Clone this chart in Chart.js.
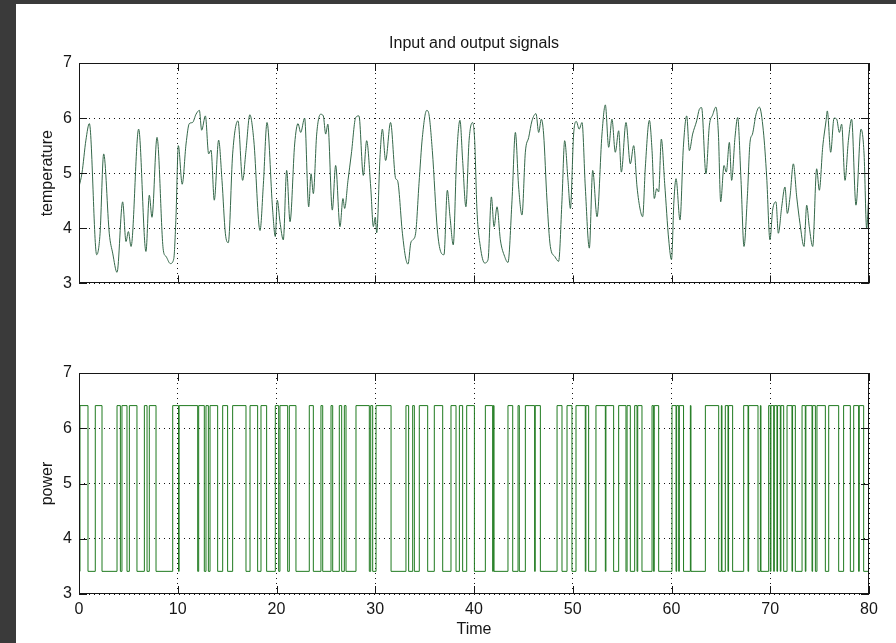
<!DOCTYPE html>
<html>
<head>
<meta charset="utf-8">
<title>Input and output signals</title>
<script src="https://cdn.jsdelivr.net/npm/chart.js@4.4.1/dist/chart.umd.min.js"></script>
<style>
  html, body { margin: 0; padding: 0; background: #3a3a3a; width: 896px; height: 643px; overflow: hidden; }
  #sheet { position: absolute; left: 16px; top: 4px; width: 880px; height: 639px; background: #fff; }
  .plot { position: absolute; left: 0; width: 896px; }
  #top { top: 0; height: 300px; }
  #bot { top: 300px; height: 343px; }
</style>
</head>
<body>
<div id="sheet"></div>
<div class="plot" id="top"><canvas id="tempChart"></canvas></div>
<div class="plot" id="bot"><canvas id="powerChart"></canvas></div>

<script>
// ── DATA ────────────────────────────────────────────────────
const timeTicks = [0, 10, 20, 30, 40, 50, 60, 70, 80];
const levelTicks = [3, 4, 5, 6, 7];

// temperature (output)
const tempTime = [
  0, 0.3, 0.7, 1.05, 1.79, 2.13, 2.5, 3.07, 3.41, 3.85, 4.42, 4.76, 5.0, 5.27, 6.04, 6.78,
  7.12, 7.39, 7.9, 8.54, 8.81, 9.25, 9.59, 9.82, 10.06, 10.45, 10.84, 11.17, 11.5, 11.85,
  12.19, 12.42, 12.8, 13.13, 13.37, 13.7, 14.14, 14.48, 14.82, 15.12, 15.56, 16.1, 16.57,
  16.91, 17.3, 17.7, 18.33, 18.67, 19.04, 19.61, 19.88,
  20.08, 20.35, 20.69, 21.03, 21.37, 21.84, 22.18, 22.45, 22.85, 23.26, 23.5, 23.73, 24.07,
  24.47, 24.74, 24.98, 25.2, 25.65, 25.99, 26.43, 26.73, 26.9, 27.24, 27.58, 28.02, 28.35,
  28.79, 29.13, 29.54, 29.81, 30.0, 30.15, 30.48, 30.72, 31.05, 31.55, 32.07, 32.25, 32.75,
  33.08, 33.32, 33.59, 33.8, 34.09, 34.43, 34.77, 35.21, 35.4, 35.78, 36.29, 36.62, 36.96,
  37.3, 37.57, 37.9, 38.24, 38.58, 38.85, 39.18, 39.5, 39.85,
  40.07, 40.3, 40.64, 41.08, 41.42, 41.76, 42.03, 42.33, 42.67, 43.1, 43.44, 43.85, 44.19,
  44.52, 44.86, 45.2, 45.54, 45.87, 46.28, 46.55, 46.82, 47.05, 47.39, 47.73, 48.17, 48.57,
  48.91, 49.18, 49.52, 49.76, 50.09, 50.36, 50.65, 50.94, 51.27, 51.68, 52.02, 52.46, 52.96,
  53.3, 53.64, 53.97, 54.31, 54.65, 54.92, 55.39, 55.83, 56.17, 56.51, 56.84, 57.08, 57.35,
  57.76, 58.03, 58.26, 58.5, 58.7, 58.97, 59.31, 59.72, 60.0,
  60.25, 60.46, 60.86, 61.2, 61.54, 61.81, 62.14, 62.55, 62.82, 63.05, 63.49, 63.83, 64.17,
  64.5, 64.75, 64.98, 65.32, 65.55, 65.86, 66.09, 66.43, 66.7, 67.04, 67.34, 67.68, 67.95,
  68.2, 68.56, 68.9, 69.3, 69.64, 69.97, 70.24, 70.58, 70.82, 71.16, 71.49, 71.73, 72.0,
  72.34, 72.68, 73.01, 73.42, 73.69, 73.95, 74.3, 74.7, 74.97, 75.31, 75.65, 75.78, 76.12,
  76.46, 76.73, 77.0, 77.23, 77.57, 77.91, 78.24, 78.68, 79.19, 79.5, 79.76, 80.0
];
const tempValue = [
  4.75, 5.0, 5.6, 5.9, 3.52, 3.9, 5.35, 3.9, 3.55, 3.2, 4.48, 3.76, 3.94, 3.67, 5.8, 3.58,
  4.6, 4.2, 5.65, 3.6, 3.49, 3.36, 3.44, 4.2, 5.5, 4.8, 5.53, 5.9, 5.92, 6.07,
  6.14, 5.78, 6.04, 5.35, 5.42, 4.51, 5.6, 4.87, 3.91, 3.74, 5.35, 5.95, 4.87,
  5.41, 6.06, 5.6, 3.96, 4.8, 5.92, 4.33, 3.85,
  4.51, 4.12, 3.79, 5.05, 4.12, 5.53, 5.9, 5.74, 6.0, 4.39, 4.99, 4.63, 5.71,
  6.07, 6.04, 5.71, 5.89, 4.33, 5.14, 4.03, 4.54, 4.36, 4.87, 5.35, 6.01, 6.04,
  4.96, 5.59, 4.75, 4.03, 4.2, 3.92, 5.29, 5.8, 5.23, 5.92, 4.9, 4.87, 3.91,
  3.46, 3.35, 3.73, 3.79, 3.91, 4.81, 5.65, 6.14, 6.1, 5.41, 3.97, 3.58, 3.52,
  4.69, 4.21, 3.7, 5.29, 5.96, 5.23, 4.39, 5.59, 5.92,
  5.59, 4.33, 3.67, 3.37, 3.43, 4.57, 4.03, 4.39, 3.79, 3.49, 3.38, 4.51, 5.74,
  4.75, 4.24, 5.38, 5.65, 5.95, 6.08, 5.74, 5.98, 5.71, 4.51, 3.67, 3.49, 3.4,
  4.51, 5.59, 4.87, 4.36, 5.71, 5.94, 5.8, 5.92, 4.75, 3.64, 5.05, 4.21, 5.71,
  6.24, 5.47, 5.98, 5.38, 5.77, 5.02, 5.92, 5.17, 5.5, 4.75, 4.33, 4.21, 5.11,
  5.96, 5.41, 4.54, 4.72, 4.66, 5.62, 4.81, 3.79, 3.43,
  4.51, 4.9, 4.15, 5.47, 6.04, 5.41, 5.71, 5.95, 6.16, 6.19, 4.99, 5.86, 6.06,
  6.2, 5.71, 4.48, 5.14, 5.02, 5.56, 4.87, 5.65, 6.01, 4.87, 3.67, 4.57, 5.56,
  5.71, 6.07, 6.2, 5.77, 4.93, 3.79, 4.33, 4.48, 3.91, 4.39, 4.75, 4.27, 4.57,
  5.17, 4.57, 4.09, 3.67, 4.42, 4.03, 3.67, 5.08, 4.69, 5.47, 5.95, 6.13, 5.38,
  6.0, 5.98, 5.74, 5.89, 4.87, 5.59, 5.98, 4.42, 5.8, 5.35, 4.0, 4.69
];

// power (input): two levels, toggled at the listed times
const powerLevels = [3.41, 6.41];
const powerStartIdx = 0;
const powerSwitch = [
  0.10, 0.91, 1.65, 2.33, 3.85, 4.19, 4.35, 4.86, 5.10, 5.87,
  6.62, 6.89, 7.12, 7.80, 9.49, 10.08, 10.14, 12.02, 12.12, 12.69,
  12.86, 13.10, 13.27, 14.04, 14.55, 15.05, 15.56, 16.91, 17.32, 18.09,
  18.43, 19.0, 19.88, 20.22, 20.35, 21.13, 21.3, 21.97, 23.32, 23.73,
  24.5, 24.68, 25.52, 25.69, 26.36, 26.6, 26.87, 27.04, 28.05, 29.4,
  29.54, 29.74, 30.08, 31.6, 33.11, 33.38, 33.79, 33.96, 34.46, 35.31,
  35.98, 36.83, 37.67, 38.18, 38.52, 38.85, 39.26, 40.04,
  41.15, 41.89, 41.96, 42.03, 43.44, 43.92, 44.46, 44.59, 45.2, 46.14,
  46.2, 46.72, 48.41, 48.91, 49.42, 49.92, 50.33, 51.27, 51.33, 51.61,
  52.35, 53.3, 53.36, 54.14, 54.65, 55.39, 55.5, 55.83, 56.27, 56.51,
  56.58, 57.01, 58.03, 58.19, 58.25, 58.7, 60.05, 60.46, 60.52, 60.73,
  60.79, 61.22, 61.91, 61.97, 63.43, 64.78, 65.05, 65.11, 65.45, 65.72,
  65.78, 66.19, 67.31, 67.75, 67.81, 68.76, 69.0, 69.06, 69.84, 70.01,
  70.07, 70.35, 70.41, 70.68, 70.74, 71.02, 71.08, 71.36, 71.7, 72.2,
  72.26, 72.54, 73.22, 73.55, 73.61, 74.23, 74.29, 74.57, 74.73, 75.58,
  75.92, 76.93, 77.43, 78.11, 78.45, 78.95, 79.01, 79.46, 79.97
];

// ── SERIES BUILDERS ─────────────────────────────────────────
function tempPoints() {
  return tempTime.map((t, i) => ({ x: t, y: tempValue[i] }));
}

// each point holds its level until the next switch time
function powerPoints() {
  let idx = powerStartIdx;
  const pts = [{ x: 0, y: powerLevels[idx] }];
  powerSwitch.forEach(t => {
    idx = 1 - idx;
    pts.push({ x: t, y: powerLevels[idx] });
  });
  pts.push({ x: 80, y: powerLevels[idx] });
  return pts;
}

// ── SHARED LOOK ─────────────────────────────────────────────
const FONT = "'Liberation Sans', Arial, Helvetica, sans-serif";
const INK = '#161616';
const PLOT_LEFT = 79;     // y-axis band width
const PLOT_RIGHT_PAD = 27;

// frame + inward tick marks, drawn from the chart's own scales
const framePlugin = {
  id: 'frame',
  afterDraw(chart) {
    const { ctx, chartArea: a, scales: { x, y } } = chart;
    const len = 8;
    ctx.save();
    ctx.strokeStyle = INK;
    ctx.lineWidth = 1;
    ctx.strokeRect(Math.round(a.left) + 0.5, Math.round(a.top) + 0.5,
                   Math.round(a.width) - 1, Math.round(a.height) - 1);
    ctx.beginPath();
    x.ticks.forEach(t => {
      const px = Math.round(x.getPixelForValue(t.value)) + 0.5;
      ctx.moveTo(px, a.top); ctx.lineTo(px, a.top + len);
      ctx.moveTo(px, a.bottom); ctx.lineTo(px, a.bottom - len);
    });
    y.ticks.forEach(t => {
      const py = Math.round(y.getPixelForValue(t.value)) + 0.5;
      ctx.moveTo(a.left, py); ctx.lineTo(a.left + len, py);
      ctx.moveTo(a.right, py); ctx.lineTo(a.right - len, py);
    });
    ctx.stroke();
    ctx.restore();
  }
};

function panelOptions({ yLabel, showX, xHeight, padTop, title }) {
  return {
    responsive: true,
    maintainAspectRatio: false,
    animation: false,
    layout: { padding: { top: padTop, right: PLOT_RIGHT_PAD, left: 0, bottom: 0 } },
    plugins: {
      legend: { display: false },
      tooltip: { enabled: false },
      title: title ? {
        display: true,
        text: title,
        fullSize: false,
        color: INK,
        font: { family: FONT, size: 16, weight: 'normal' },
        padding: { top: 34.4, bottom: 9.4 }
      } : { display: false }
    },
    scales: {
      x: {
        type: 'linear',
        min: 0, max: 80,
        afterBuildTicks: s => { s.ticks = timeTicks.map(v => ({ value: v })); },
        afterFit: s => { s.height = xHeight; },
        grid: { color: INK, lineWidth: 1, drawTicks: false },
        border: { display: false, dash: [1, 4] },
        ticks: {
          display: showX, autoSkip: false, padding: 6, color: INK,
          font: { family: FONT, size: 16 }
        },
        title: {
          display: showX, text: 'Time', color: INK,
          font: { family: FONT, size: 16 },
          padding: { top: 0, bottom: 3.8 }
        }
      },
      y: {
        type: 'linear',
        min: 3, max: 7,
        afterBuildTicks: s => { s.ticks = levelTicks.map(v => ({ value: v })); },
        afterFit: s => { s.width = PLOT_LEFT; },
        grid: { color: INK, lineWidth: 1, drawTicks: false },
        border: { display: false, dash: [1, 4] },
        ticks: { padding: 7, color: INK, font: { family: FONT, size: 16 } },
        title: {
          display: true, text: yLabel, color: INK,
          font: { family: FONT, size: 16 },
          padding: { top: 38.4, bottom: 0 }
        }
      }
    }
  };
}

// ── CHARTS ──────────────────────────────────────────────────
new Chart(document.getElementById('tempChart'), {
  type: 'line',
  data: {
    datasets: [{
      label: 'temperature',
      data: tempPoints(),
      borderColor: '#35684a',
      borderWidth: 1,
      pointRadius: 0,
      cubicInterpolationMode: 'monotone',
      fill: false
    }]
  },
  options: panelOptions({ yLabel: 'temperature', showX: false, xHeight: 16, padTop: 0, title: 'Input and output signals' }),
  plugins: [framePlugin]
});

new Chart(document.getElementById('powerChart'), {
  type: 'line',
  data: {
    datasets: [{
      label: 'power',
      data: powerPoints(),
      borderColor: '#1f7a1f',
      borderWidth: 1,
      pointRadius: 0,
      stepped: 'before',
      fill: false
    }]
  },
  options: panelOptions({ yLabel: 'power', showX: true, xHeight: 49, padTop: 73 }),
  plugins: [framePlugin]
});
</script>
</body>
</html>
